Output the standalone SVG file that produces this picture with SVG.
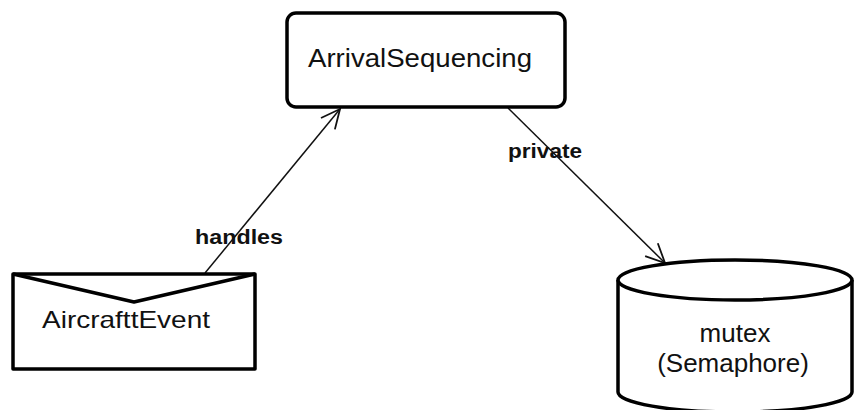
<svg xmlns="http://www.w3.org/2000/svg" width="854" height="410" viewBox="0 0 854 410">
  <style>
    .node { fill: #ffffff; stroke: #000000; stroke-width: 3.5; stroke-linejoin: round; }
    .edge { fill: none; stroke: #111111; stroke-width: 1.5; }
    .name { font-family: "Liberation Sans", Arial, sans-serif; fill: #111111; }
    .lbl { font-family: "Liberation Sans", Arial, sans-serif; font-weight: bold; font-size: 20px; fill: #111111; }
  </style>
  <defs>
    <marker id="open" markerUnits="userSpaceOnUse" markerWidth="30" markerHeight="30" refX="20" refY="10" orient="auto">
      <path d="M1,1 L20,10 L1,19" fill="none" stroke="#111111" stroke-width="1.8"/>
    </marker>
  </defs>
  <rect width="854" height="410" fill="#ffffff"/>

  <g id="connectors">
    <line class="edge" x1="205" y1="273" x2="340" y2="109" marker-end="url(#open)"/>
    <line class="edge" x1="508" y1="108" x2="665" y2="263" marker-end="url(#open)"/>
    <text class="lbl" x="195" y="244" textLength="88" lengthAdjust="spacingAndGlyphs">handles</text>
    <text class="lbl" x="508" y="158" textLength="74" lengthAdjust="spacingAndGlyphs">private</text>
  </g>

  <g id="ArrivalSequencing">
    <rect class="node" x="287" y="13" width="278" height="94" rx="9"/>
    <text class="name" x="308" y="67" font-size="25" textLength="224" lengthAdjust="spacingAndGlyphs">ArrivalSequencing</text>
  </g>

  <g id="AircrafttEvent">
    <rect class="node" x="13" y="274" width="242" height="95" stroke-width="4"/>
    <path d="M13,274 L134,302 L255,274" fill="none" stroke="#000000" stroke-width="3.5" stroke-linejoin="round"/>
    <text class="name" x="42" y="328" font-size="24" textLength="168" lengthAdjust="spacingAndGlyphs">AircrafttEvent</text>
  </g>

  <g id="mutex">
    <path class="node" d="M618,280 L618,392 A117,20 0 0 0 852,392 L852,280"/>
    <ellipse class="node" cx="735" cy="280" rx="117" ry="20"/>
    <text class="name" x="735" y="342" font-size="26" text-anchor="middle">mutex</text>
    <text class="name" x="733" y="372" font-size="26" text-anchor="middle">(Semaphore)</text>
  </g>
</svg>
